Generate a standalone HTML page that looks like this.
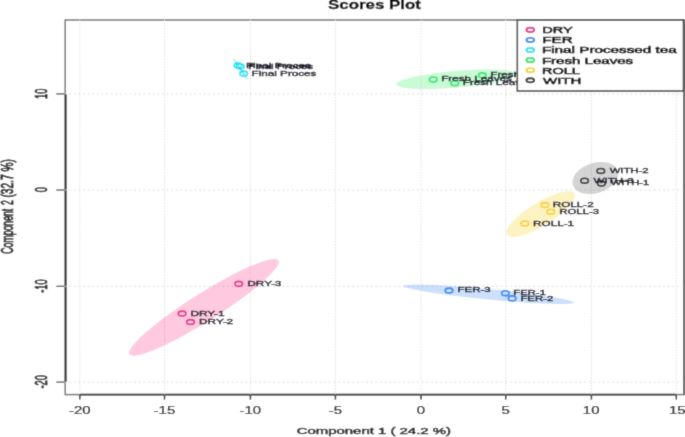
<!DOCTYPE html>
<html><head><meta charset="utf-8"><style>
html,body{margin:0;padding:0;background:#fff;}
body{width:685px;height:437px;overflow:hidden;}
svg{display:block;font-family:"Liberation Sans",sans-serif;}
</style></head><body>
<svg width="685" height="437" viewBox="0 0 685 437"><defs><filter id="bl" x="0" y="0" width="685" height="437" filterUnits="userSpaceOnUse"><feConvolveMatrix order="3" kernelMatrix="0.01917 0.10012 0.01917 0.10012 0.52283 0.10012 0.01917 0.10012 0.01917" edgeMode="duplicate"/></filter></defs><g filter="url(#bl)"><rect width="685" height="437" fill="#fff"/>
<rect x="65.2" y="20.0" width="618.8" height="374.6" fill="none" stroke="#727272" stroke-width="1.5"/>
<line x1="683.8" y1="20.0" x2="683.8" y2="394.6" stroke="#5a5a5a" stroke-width="1.4"/>
<line x1="65.7" y1="93.9" x2="65.7" y2="382.1" stroke="#303030" stroke-width="2.0"/>
<line x1="79.8" y1="394.6" x2="676.3" y2="394.6" stroke="#383838" stroke-width="1.8"/>
<line x1="79.80" y1="394.6" x2="79.80" y2="399.6" stroke="#2a2a2a" stroke-width="1.5"/>
<line x1="164.50" y1="394.6" x2="164.50" y2="399.6" stroke="#2a2a2a" stroke-width="1.5"/>
<line x1="250.40" y1="394.6" x2="250.40" y2="399.6" stroke="#2a2a2a" stroke-width="1.5"/>
<line x1="335.40" y1="394.6" x2="335.40" y2="399.6" stroke="#2a2a2a" stroke-width="1.5"/>
<line x1="421.00" y1="394.6" x2="421.00" y2="399.6" stroke="#2a2a2a" stroke-width="1.5"/>
<line x1="505.70" y1="394.6" x2="505.70" y2="399.6" stroke="#2a2a2a" stroke-width="1.5"/>
<line x1="591.40" y1="394.6" x2="591.40" y2="399.6" stroke="#2a2a2a" stroke-width="1.5"/>
<line x1="676.30" y1="394.6" x2="676.30" y2="399.6" stroke="#2a2a2a" stroke-width="1.5"/>
<line x1="65.2" y1="93.90" x2="56.2" y2="93.90" stroke="#555" stroke-width="1.3"/>
<line x1="65.2" y1="190.00" x2="56.2" y2="190.00" stroke="#555" stroke-width="1.3"/>
<line x1="65.2" y1="286.30" x2="56.2" y2="286.30" stroke="#555" stroke-width="1.3"/>
<line x1="65.2" y1="382.10" x2="56.2" y2="382.10" stroke="#555" stroke-width="1.3"/>
<line x1="79.80" y1="19.63" x2="79.80" y2="394.6" stroke="#dedede" stroke-width="1" stroke-dasharray="1.4 1.37"/>
<line x1="164.50" y1="19.63" x2="164.50" y2="394.6" stroke="#dedede" stroke-width="1" stroke-dasharray="1.4 1.37"/>
<line x1="250.40" y1="19.63" x2="250.40" y2="394.6" stroke="#dedede" stroke-width="1" stroke-dasharray="1.4 1.37"/>
<line x1="335.40" y1="19.63" x2="335.40" y2="394.6" stroke="#dedede" stroke-width="1" stroke-dasharray="1.4 1.37"/>
<line x1="421.00" y1="19.63" x2="421.00" y2="394.6" stroke="#dedede" stroke-width="1" stroke-dasharray="1.4 1.37"/>
<line x1="505.70" y1="19.63" x2="505.70" y2="394.6" stroke="#dedede" stroke-width="1" stroke-dasharray="1.4 1.37"/>
<line x1="591.40" y1="19.63" x2="591.40" y2="394.6" stroke="#dedede" stroke-width="1" stroke-dasharray="1.4 1.37"/>
<line x1="676.30" y1="19.63" x2="676.30" y2="394.6" stroke="#dedede" stroke-width="1" stroke-dasharray="1.4 1.37"/>
<line x1="64.4" y1="93.90" x2="684.0" y2="93.90" stroke="#dedede" stroke-width="1" stroke-dasharray="2 2.64"/>
<line x1="64.4" y1="190.00" x2="684.0" y2="190.00" stroke="#dedede" stroke-width="1" stroke-dasharray="2 2.64"/>
<line x1="64.4" y1="286.30" x2="684.0" y2="286.30" stroke="#dedede" stroke-width="1" stroke-dasharray="2 2.64"/>
<line x1="64.4" y1="382.10" x2="684.0" y2="382.10" stroke="#dedede" stroke-width="1" stroke-dasharray="2 2.64"/>
<ellipse cx="203.9" cy="307.4" rx="88.0" ry="14.0" transform="rotate(-32.2 203.9 307.4)" fill="#ff3788" fill-opacity="0.27"/>
<ellipse cx="488.4" cy="294.3" rx="85.8" ry="5.2" transform="rotate(5.55 488.4 294.3)" fill="#468cf0" fill-opacity="0.27"/>
<ellipse cx="240.4" cy="69.0" rx="12.8" ry="1.0" transform="rotate(56.2 240.4 69.0)" fill="#40e4f4" fill-opacity="0.75"/>
<ellipse cx="456.5" cy="79.2" rx="60.5" ry="8.4" transform="rotate(-4.9 456.5 79.2)" fill="#37f063" fill-opacity="0.27"/>
<ellipse cx="540.6" cy="214.1" rx="39.5" ry="11.6" transform="rotate(-31.5 540.6 214.1)" fill="#f8cf1d" fill-opacity="0.27"/>
<ellipse cx="595.3" cy="178.0" rx="23.5" ry="15.0" transform="rotate(-18.0 595.3 178.0)" fill="#606060" fill-opacity="0.27"/>
<ellipse cx="182.1" cy="313.5" rx="3.8" ry="2.45" fill="none" stroke="#e82a85" stroke-width="1.65"/>
<ellipse cx="190.5" cy="322.0" rx="3.8" ry="2.45" fill="none" stroke="#e82a85" stroke-width="1.65"/>
<ellipse cx="238.75" cy="283.85" rx="3.8" ry="2.45" fill="none" stroke="#e82a85" stroke-width="1.65"/>
<ellipse cx="505.4" cy="293.2" rx="3.8" ry="2.45" fill="none" stroke="#3388f0" stroke-width="1.65"/>
<ellipse cx="512.1" cy="298.4" rx="3.8" ry="2.45" fill="none" stroke="#3388f0" stroke-width="1.65"/>
<ellipse cx="449.0" cy="290.5" rx="3.8" ry="2.45" fill="none" stroke="#3388f0" stroke-width="1.65"/>
<ellipse cx="238.0" cy="65.5" rx="3.8" ry="2.45" fill="none" stroke="#12e2f2" stroke-width="1.65"/>
<ellipse cx="240.3" cy="66.4" rx="3.8" ry="2.45" fill="none" stroke="#12e2f2" stroke-width="1.65"/>
<ellipse cx="243.6" cy="73.6" rx="3.8" ry="2.45" fill="none" stroke="#12e2f2" stroke-width="1.65"/>
<ellipse cx="433.2" cy="79.4" rx="3.8" ry="2.45" fill="none" stroke="#28e668" stroke-width="1.65"/>
<ellipse cx="454.8" cy="83.2" rx="3.8" ry="2.45" fill="none" stroke="#28e668" stroke-width="1.65"/>
<ellipse cx="482.3" cy="75.3" rx="3.8" ry="2.45" fill="none" stroke="#28e668" stroke-width="1.65"/>
<ellipse cx="524.8" cy="223.4" rx="3.8" ry="2.45" fill="none" stroke="#f6d226" stroke-width="1.65"/>
<ellipse cx="544.9" cy="205.0" rx="3.8" ry="2.45" fill="none" stroke="#f6d226" stroke-width="1.65"/>
<ellipse cx="550.7" cy="211.7" rx="3.8" ry="2.45" fill="none" stroke="#f6d226" stroke-width="1.65"/>
<ellipse cx="601.4" cy="183.6" rx="3.8" ry="2.45" fill="none" stroke="#303030" stroke-width="1.65"/>
<ellipse cx="600.8" cy="170.9" rx="3.8" ry="2.45" fill="none" stroke="#303030" stroke-width="1.65"/>
<ellipse cx="584.6" cy="180.7" rx="3.8" ry="2.45" fill="none" stroke="#303030" stroke-width="1.65"/>
<text transform="translate(190.46,315.85) scale(1.5962,1)" font-size="7.4" font-weight="normal" fill="#1a1a2a" stroke="#1a1a2a" stroke-width="0.4">DRY-1</text>
<text transform="translate(199.06,323.95) scale(1.5962,1)" font-size="7.4" font-weight="normal" fill="#1a1a2a" stroke="#1a1a2a" stroke-width="0.4">DRY-2</text>
<text transform="translate(247.36,285.75) scale(1.5933,1)" font-size="7.4" font-weight="normal" fill="#1a1a2a" stroke="#1a1a2a" stroke-width="0.4">DRY-3</text>
<text transform="translate(513.30,294.75) scale(1.5227,1)" font-size="7.4" font-weight="normal" fill="#1a1a2a" stroke="#1a1a2a" stroke-width="0.4">FER-1</text>
<text transform="translate(520.39,300.55) scale(1.5374,1)" font-size="7.4" font-weight="normal" fill="#1a1a2a" stroke="#1a1a2a" stroke-width="0.4">FER-2</text>
<text transform="translate(457.58,291.70) scale(1.5542,1)" font-size="7.4" font-weight="normal" fill="#1a1a2a" stroke="#1a1a2a" stroke-width="0.4">FER-3</text>
<text transform="translate(245.96,67.55) scale(1.5800,1)" font-size="7.4" font-weight="normal" fill="#1a1a2a" stroke="#1a1a2a" stroke-width="0.4">Final Proces</text>
<text transform="translate(248.26,68.55) scale(1.5800,1)" font-size="7.4" font-weight="normal" fill="#1a1a2a" stroke="#1a1a2a" stroke-width="0.4">Final Proces</text>
<text transform="translate(251.56,75.85) scale(1.5800,1)" font-size="7.4" font-weight="normal" fill="#1a1a2a" stroke="#1a1a2a" stroke-width="0.4">Final Proces</text>
<text transform="translate(441.16,80.95) scale(1.5800,1)" font-size="7.4" font-weight="normal" fill="#1a1a2a" stroke="#1a1a2a" stroke-width="0.4">Fresh Leaves</text>
<text transform="translate(462.76,84.95) scale(1.5800,1)" font-size="7.4" font-weight="normal" fill="#1a1a2a" stroke="#1a1a2a" stroke-width="0.4">Fresh Leaves</text>
<text transform="translate(490.26,77.05) scale(1.5800,1)" font-size="7.4" font-weight="normal" fill="#1a1a2a" stroke="#1a1a2a" stroke-width="0.4">Fresh Leaves</text>
<text transform="translate(533.06,226.15) scale(1.5839,1)" font-size="7.4" font-weight="normal" fill="#1a1a2a" stroke="#1a1a2a" stroke-width="0.4">ROLL-1</text>
<text transform="translate(552.76,206.95) scale(1.5839,1)" font-size="7.4" font-weight="normal" fill="#1a1a2a" stroke="#1a1a2a" stroke-width="0.4">ROLL-2</text>
<text transform="translate(559.19,214.05) scale(1.5455,1)" font-size="7.4" font-weight="normal" fill="#1a1a2a" stroke="#1a1a2a" stroke-width="0.4">ROLL-3</text>
<text transform="translate(610.84,184.80) scale(1.5068,1)" font-size="7.4" font-weight="normal" fill="#1a1a2a" stroke="#1a1a2a" stroke-width="0.4">WITH-1</text>
<text transform="translate(609.64,173.00) scale(1.5307,1)" font-size="7.4" font-weight="normal" fill="#1a1a2a" stroke="#1a1a2a" stroke-width="0.4">WITH-2</text>
<text transform="translate(593.44,182.55) scale(1.5800,1)" font-size="7.4" font-weight="normal" fill="#1a1a2a" stroke="#1a1a2a" stroke-width="0.4">WITH-3</text>
<rect x="517.3" y="20" width="166.2" height="71" fill="#fff" stroke="#484848" stroke-width="1.6"/>
<ellipse cx="530.3" cy="29.90" rx="3.9" ry="2.1" fill="none" stroke="#e82a85" stroke-width="1.9"/>
<text transform="translate(542.34,33.30) scale(1.5128,1)" font-size="9.6" font-weight="normal" fill="#0a0a0a" stroke="#0a0a0a" stroke-width="0.6">DRY</text>
<ellipse cx="530.3" cy="39.98" rx="3.9" ry="2.1" fill="none" stroke="#3388f0" stroke-width="1.9"/>
<text transform="translate(542.28,43.38) scale(1.5833,1)" font-size="9.6" font-weight="normal" fill="#0a0a0a" stroke="#0a0a0a" stroke-width="0.6">FER</text>
<ellipse cx="530.3" cy="50.06" rx="3.9" ry="2.1" fill="none" stroke="#12e2f2" stroke-width="1.9"/>
<text transform="translate(541.88,53.46) scale(1.5908,1)" font-size="9.6" font-weight="normal" fill="#0a0a0a" stroke="#0a0a0a" stroke-width="0.6">Final Processed tea</text>
<ellipse cx="530.3" cy="60.14" rx="3.9" ry="2.1" fill="none" stroke="#28e668" stroke-width="1.9"/>
<text transform="translate(541.89,63.54) scale(1.5699,1)" font-size="9.6" font-weight="normal" fill="#0a0a0a" stroke="#0a0a0a" stroke-width="0.6">Fresh Leaves</text>
<ellipse cx="530.3" cy="70.22" rx="3.9" ry="2.1" fill="none" stroke="#f6d226" stroke-width="1.9"/>
<text transform="translate(541.94,73.62) scale(1.5125,1)" font-size="9.6" font-weight="normal" fill="#0a0a0a" stroke="#0a0a0a" stroke-width="0.6">ROLL</text>
<ellipse cx="530.3" cy="80.30" rx="3.9" ry="2.1" fill="none" stroke="#303030" stroke-width="1.9"/>
<text transform="translate(543.02,83.70) scale(1.5646,1)" font-size="9.6" font-weight="normal" fill="#0a0a0a" stroke="#0a0a0a" stroke-width="0.6">WITH</text>
<text transform="translate(328.09,8.70) scale(1.4072,1)" font-size="12" font-weight="bold" fill="#000" stroke="#000" stroke-width="0.3">Scores Plot</text>
<text transform="translate(296.65,433.60) scale(1.5566,1)" font-size="9.6" font-weight="normal" fill="#222" stroke="#222" stroke-width="0.5">Component 1 ( 24.2 %)</text>
<text transform="translate(13.30,253.74) rotate(-90) scale(0.5443,1)" font-size="16" fill="#222" stroke="#222" stroke-width="0.9">Component</text>
<text transform="translate(13.30,204.93) rotate(-90) scale(0.5357,1)" font-size="16" fill="#222" stroke="#222" stroke-width="0.9">2</text>
<text transform="translate(13.30,197.61) rotate(-90) scale(0.6361,1)" font-size="16" fill="#222" stroke="#222" stroke-width="0.9">(32.7 %)</text>
<text transform="translate(68.92,413.70) scale(1.4286,1)" font-size="10.5" font-weight="normal" fill="#222" stroke="#222" stroke-width="0.25">-20</text>
<text transform="translate(153.62,413.70) scale(1.4286,1)" font-size="10.5" font-weight="normal" fill="#222" stroke="#222" stroke-width="0.25">-15</text>
<text transform="translate(239.53,413.70) scale(1.4286,1)" font-size="10.5" font-weight="normal" fill="#222" stroke="#222" stroke-width="0.25">-10</text>
<text transform="translate(328.69,413.70) scale(1.4286,1)" font-size="10.5" font-weight="normal" fill="#222" stroke="#222" stroke-width="0.25">-5</text>
<text transform="translate(416.84,413.70) scale(1.4286,1)" font-size="10.5" font-weight="normal" fill="#222" stroke="#222" stroke-width="0.25">0</text>
<text transform="translate(501.54,413.70) scale(1.4286,1)" font-size="10.5" font-weight="normal" fill="#222" stroke="#222" stroke-width="0.25">5</text>
<text transform="translate(582.81,413.70) scale(1.4286,1)" font-size="10.5" font-weight="normal" fill="#222" stroke="#222" stroke-width="0.25">10</text>
<text transform="translate(669.01,413.70) scale(1.4286,1)" font-size="10.5" font-weight="normal" fill="#222" stroke="#222" stroke-width="0.25">15</text>
<text transform="translate(47.00,98.94) rotate(-90) scale(0.5600,1)" font-size="16.5" fill="#222" stroke="#222" stroke-width="0.9">10</text>
<text transform="translate(47.00,192.31) rotate(-90) scale(0.5600,1)" font-size="16.5" fill="#222" stroke="#222" stroke-width="0.9">0</text>
<text transform="translate(47.00,292.75) rotate(-90) scale(0.5600,1)" font-size="16.5" fill="#222" stroke="#222" stroke-width="0.9">-10</text>
<text transform="translate(47.00,388.55) rotate(-90) scale(0.5600,1)" font-size="16.5" fill="#222" stroke="#222" stroke-width="0.9">-20</text>
</g></svg>
</body></html>
